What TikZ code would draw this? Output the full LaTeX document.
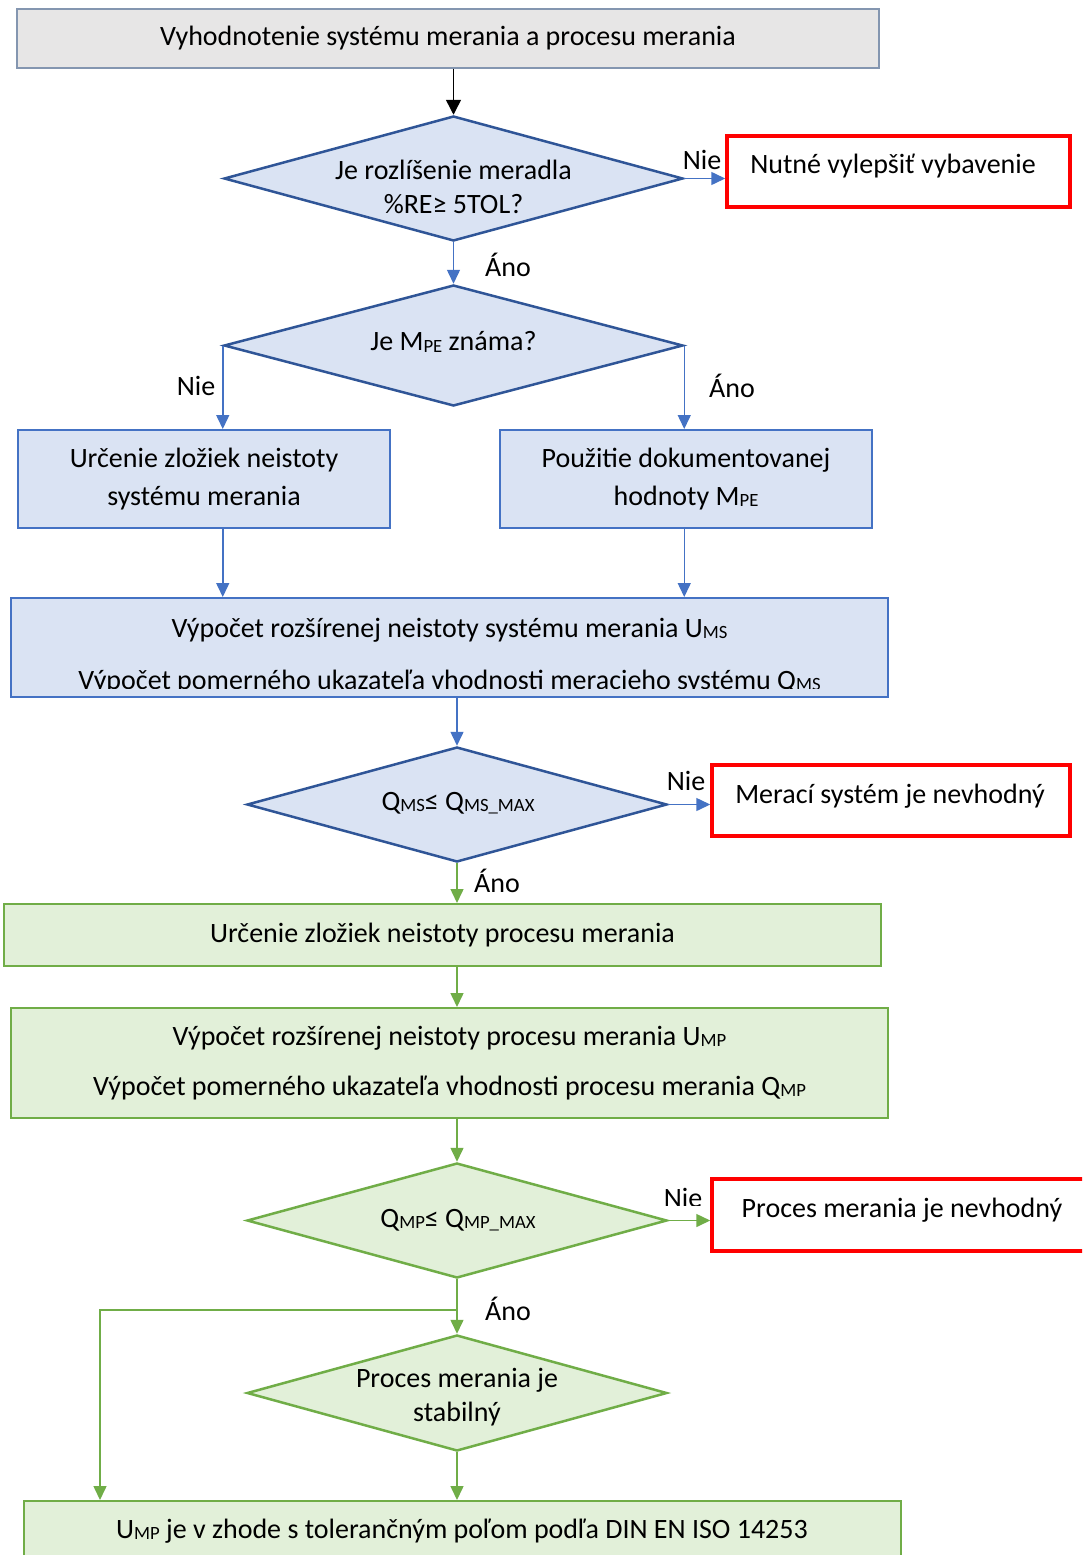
\documentclass[tikz,border=0pt]{standalone}
\usepackage{fontspec}
\setmainfont{Carlito}
\usetikzlibrary{shapes.geometric,arrows.meta}

\definecolor{boxgray}{HTML}{E7E6E6}
\definecolor{edgegray}{HTML}{8496B0}
\definecolor{bluefill}{HTML}{DAE3F3}
\definecolor{blueedge}{HTML}{4472C4}
\definecolor{darkblue}{HTML}{2F5597}
\definecolor{greenfill}{HTML}{E2F0D9}
\definecolor{greenedge}{HTML}{70AD47}
\definecolor{alertred}{HTML}{FF0000}

% small lowered index letters (M_PE, Q_MS, ...)
\newcommand\lowidx[1]{\raisebox{-1.5pt}{\fontsize{18.7}{18.7}\selectfont #1}}

\tikzset{
  rectbox/.style={rectangle, draw, inner sep=0pt, line width=2pt, align=center},
  graybox/.style={rectbox, fill=boxgray, draw=edgegray, line width=1.5pt},
  bluebox/.style={rectbox, fill=bluefill, draw=blueedge},
  greenbox/.style={rectbox, fill=greenfill, draw=greenedge},
  redbox/.style={rectbox, fill=white, draw=alertred, line width=3.5pt},
  decision/.style={diamond, draw, inner sep=0pt, line width=2.5pt},
  bluedec/.style={decision, fill=bluefill, draw=darkblue},
  greendec/.style={decision, fill=greenfill, draw=greenedge},
  txt/.style={inner sep=0pt, align=center},
  flow/.style={line width=1.5pt, -{Triangle[length=14pt,width=13pt]}},
  blackflow/.style={flow, draw=black, -{Triangle[length=15pt,width=15pt]}},
  blueflow/.style={flow, draw=blueedge},
  greenflow/.style={flow, draw=greenedge},
}

\begin{document}
\begin{tikzpicture}[x=1pt, y=-1pt, font=\fontsize{28}{33}\selectfont]
\useasboundingbox (0,0) rectangle (1082,1555);
\clip (0,0) rectangle (1082,1555);
\fill[white] (0,0) rectangle (1082,1555);

% ---- evaluation of the measuring system ----
\node[graybox, minimum width=862pt, minimum height=59pt] (start) at (448,38.5)
  {Vyhodnotenie systému merania a procesu merania};

\node[bluedec, minimum width=459pt, minimum height=125pt] (d1) at (453.5,178.5) {};
\node[txt] (d1t) at (453.5,187) {Je rozlíšenie meradla\\[1pt]\%RE≥ 5TOL?};

\node[redbox, minimum width=343pt, minimum height=71pt] (r1) at (898.5,171.5) {};
\node[txt] (r1t) at (893,166) {Nutné vylepšiť vybavenie};

\node[bluedec, minimum width=459pt, minimum height=121pt] (d2) at (453.5,345.5) {};
\node[txt] (d2t) at (453.5,342) {Je M\lowidx{PE} známa?};

\node[bluebox, minimum width=372pt, minimum height=98pt] (bl) at (204,479)
  {Určenie zložiek neistoty\\[5pt]systému merania};
\node[bluebox, minimum width=372pt, minimum height=98pt] (br) at (686,479)
  {Použitie dokumentovanej\\[5pt]hodnoty M\lowidx{PE}};

\node[bluebox, minimum width=877pt, minimum height=99pt] (ums) at (449.5,647.5) {};
\begin{scope}
  \clip (15,600) rectangle (885,688);
  \node[txt] (umst) at (449.5,656)
    {Výpočet rozšírenej neistoty systému merania U\lowidx{MS}\\[19pt]
     Výpočet pomerného ukazateľa vhodnosti meracieho systému Q\lowidx{MS}};
\end{scope}

\node[bluedec, minimum width=420pt, minimum height=115pt] (d3) at (457,804.5) {};
\node[txt] (d3t) at (458,803) {Q\lowidx{MS}≤ Q\lowidx{MS\_MAX}};

\node[redbox, minimum width=358pt, minimum height=71pt] (r2) at (891,800.5) {};
\node[txt] (r2t) at (890,796) {Merací systém je nevhodný};

% ---- evaluation of the measuring process ----
\node[greenbox, minimum width=877pt, minimum height=62pt] (g1) at (442.5,935)
  {Určenie zložiek neistoty procesu merania};

\node[greenbox, minimum width=877pt, minimum height=110pt] (g2) at (449.5,1063)
  {Výpočet rozšírenej neistoty procesu merania U\lowidx{MP}\\[17pt]
   Výpočet pomerného ukazateľa vhodnosti procesu merania Q\lowidx{MP}};

\node[greendec, minimum width=420pt, minimum height=115pt] (d4) at (457,1220.5) {};
\node[txt] (d4t) at (458,1220) {Q\lowidx{MP}≤ Q\lowidx{MP\_MAX}};

\begin{scope}
  \clip (600,1170) rectangle (702,1205);
  \node[txt] (nie4) at (683,1198) {Nie};
\end{scope}

\node[redbox, minimum width=388pt, minimum height=72pt] (r3) at (906,1215) {};
\node[txt] (r3t) at (902,1210) {Proces merania je nevhodný};

\node[greendec, minimum width=420pt, minimum height=116pt] (d5) at (457,1393) {};
\node[txt] (d5t) at (457,1397) {Proces merania je\\[1pt]stabilný};

\node[greenbox, minimum width=877pt, minimum height=70pt] (g3) at (462.5,1536) {};
\node[txt] (g3t) at (462,1531)
  {U\lowidx{MP} je v zhode s tolerančným poľom podľa DIN EN ISO 14253};

% ---- connectors ----
\draw[blackflow] (d1.north |- start.south) -- (d1.north);
\draw[blueflow] (d1.east) -- (d1.east -| r1.west);
\draw[blueflow] (d1.south) -- (d2.north);
\draw[blueflow] (d2.west) -- (d2.west |- bl.north);
\draw[blueflow] (d2.east) -- (d2.east |- br.north);
\draw[blueflow] (d2.west |- bl.south) -- (d2.west |- ums.north);
\draw[blueflow] (d2.east |- br.south) -- (d2.east |- ums.north);
\draw[blueflow] (d3.north |- ums.south) -- (d3.north);
\draw[blueflow] (d3.east) -- (d3.east -| r2.west);
\draw[greenflow] (d3.south) -- (d3.south |- g1.north);
\draw[greenflow] (d4.north |- g1.south) -- (d4.north |- g2.north);
\draw[greenflow] (d4.north |- g2.south) -- (d4.north);
\draw[greenflow] (d4.east) -- (d4.east -| r3.west);
\coordinate (split) at (457,1310);
\coordinate (bypass) at (100,1310);
\draw[greenflow] (d4.south) -- (d5.north);
\draw[greenflow] (split) -- (bypass) -- (bypass |- g3.north);
\draw[greenflow] (d5.south) -- (d5.south |- g3.north);

% ---- branch labels ----
\node[txt] (nie1) at (702,160) {Nie};
\node[txt] (ano1) at (508,265) {Áno};
\node[txt] (nie2) at (196,386) {Nie};
\node[txt] (ano2) at (732,386) {Áno};
\node[txt] (nie3) at (686,781) {Nie};
\node[txt] (ano3) at (497,881) {Áno};
\node[txt] (ano4) at (508,1309) {Áno};
\end{tikzpicture}
\end{document}
